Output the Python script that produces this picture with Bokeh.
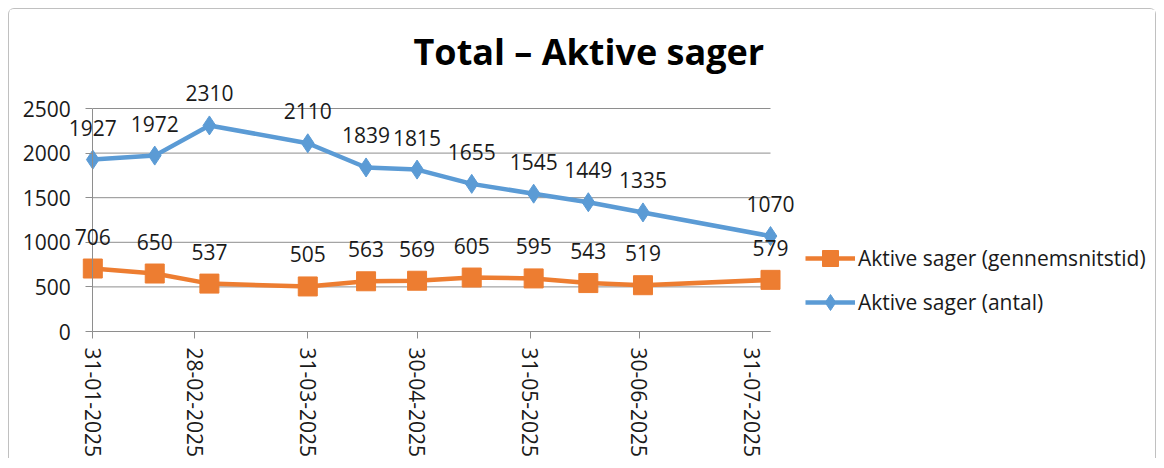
import datetime
from bokeh.plotting import figure
from bokeh.models import (Range1d, FixedTicker, DatetimeTickFormatter, LabelSet,
                          ColumnDataSource, Legend, LegendItem, LinearAxis, DatetimeAxis)
from bokeh.core.properties import value
from bokeh.embed import file_html
from bokeh.resources import INLINE

# ---- data ----
dates = ["31-01-2025", "17-02-2025", "04-03-2025", "31-03-2025", "16-04-2025",
         "30-04-2025", "15-05-2025", "01-06-2025", "16-06-2025", "01-07-2025",
         "05-08-2025"]
antal = [1927, 1972, 2310, 2110, 1839, 1815, 1655, 1545, 1449, 1335, 1070]
gennemsnitstid = [706, 650, 537, 505, 563, 569, 605, 595, 543, 519, 579]
tick_dates = ["31-01-2025", "28-02-2025", "31-03-2025", "30-04-2025",
              "31-05-2025", "30-06-2025", "31-07-2025"]
y_ticks = [0, 500, 1000, 1500, 2000, 2500]
title_text = "Total – Aktive sager"
label_gen = "Aktive sager (gennemsnitstid)"
label_antal = "Aktive sager (antal)"

BLUE = "#5B9BD5"
ORANGE = "#ED7D31"
GRID = "#8e8e8e"
TXT = "#1a1a1a"
FONT = "Open Sans"

# ---- layout (page pixels) ----
CANVAS_L, CANVAS_R = 9, 1157
CANVAS_T, CANVAS_B = 9, 459
FRAME_T = 83
PLOT_L, PLOT_R = 92.3, 770.0    # where first / last date sit
Y0_PX, YTOP_PX = 331.0, 108.0   # where 0 / 2500 sit


def to_dt(s):
    return datetime.datetime.strptime(s, "%d-%m-%Y")


def to_ms(d):
    return (d - datetime.datetime(1970, 1, 1)).total_seconds() * 1000.0


xs = [to_dt(d) for d in dates]
T0, T1 = to_ms(xs[0]), to_ms(xs[-1])
ppm = (PLOT_R - PLOT_L) / (T1 - T0)
x_start = T0 - (PLOT_L - CANVAS_L) / ppm
x_end = T1 + (CANVAS_R - PLOT_R) / ppm
ppu = (Y0_PX - YTOP_PX) / (y_ticks[-1] - y_ticks[0])
y_start = y_ticks[0] - (CANVAS_B - Y0_PX) / ppu
y_end = y_ticks[-1] + (YTOP_PX - FRAME_T) / ppu

src_a = ColumnDataSource(dict(x=xs, y=antal, t=[str(v) for v in antal]))
src_g = ColumnDataSource(dict(x=xs, y=gennemsnitstid, t=[str(v) for v in gennemsnitstid]))

p = figure(width=CANVAS_R - CANVAS_L, height=CANVAS_B - CANVAS_T,
           x_axis_type="datetime", x_axis_location=None, y_axis_location=None,
           x_range=Range1d(x_start, x_end), y_range=Range1d(y_start, y_end),
           output_backend="svg", toolbar_location=None,
           min_border_left=0, min_border_right=0,
           min_border_top=FRAME_T - CANVAS_T, min_border_bottom=0)
p.styles = {"margin-left": "8px", "margin-top": "8px",
            "border-left": "1px solid #c0c0c0", "border-top": "1px solid #c0c0c0",
            "border-right": "1px solid #c0c0c0", "border-top-left-radius": "6px",
            "border-top-right-radius": "6px"}

p.outline_line_color = None
p.background_fill_color = "white"
p.border_fill_color = "white"
for g in p.grid:
    g.visible = False

# title
p.title.text = title_text
p.title.text_font = FONT
p.title.text_font_style = "bold"
p.title.text_font_size = "36px"
p.title.text_color = "#000000"
p.title.align = "left"
p.title.offset = 413 - CANVAS_L
p.title.standoff = 16

# gridlines (drawn across the dated span)
p.segment(x0=[xs[0]] * len(y_ticks), x1=[xs[-1]] * len(y_ticks),
          y0=y_ticks, y1=y_ticks, line_color=GRID, line_width=1)

# axes
fmt = "%d-%m-%Y"
xaxis = DatetimeAxis(
    fixed_location=y_ticks[0],
    ticker=FixedTicker(ticks=[to_ms(to_dt(d)) for d in tick_dates]),
    formatter=DatetimeTickFormatter(milliseconds=fmt, seconds=fmt, minsec=fmt,
                                    minutes=fmt, hourmin=fmt, hours=fmt, days=fmt,
                                    months=fmt, years=fmt),
    bounds=(T0, T1), major_label_orientation="vertical")
yaxis = LinearAxis(fixed_location=T0, ticker=FixedTicker(ticks=y_ticks),
                   bounds=(y_ticks[0], y_ticks[-1]))
for ax in (xaxis, yaxis):
    ax.axis_line_color = GRID
    ax.axis_line_width = 1
    ax.major_tick_line_color = GRID
    ax.major_tick_out = 7
    ax.major_tick_in = 0
    ax.minor_tick_line_color = None
    ax.major_label_text_font = FONT
    ax.major_label_text_font_size = "21px"
    ax.major_label_text_color = TXT
yaxis.major_label_standoff = 15
xaxis.major_label_standoff = 9
p.add_layout(xaxis, "below")
p.add_layout(yaxis, "left")

# series
bl = p.line("x", "y", source=src_a, color=BLUE, line_width=4.5)
bs = p.scatter("x", "y", source=src_a, marker="diamond", size=19,
               fill_color=BLUE, line_color=BLUE)
ol = p.line("x", "y", source=src_g, color=ORANGE, line_width=4.5)
osq = p.scatter("x", "y", source=src_g, marker="square", size=19,
                fill_color=ORANGE, line_color=ORANGE)

for src in (src_a, src_g):
    p.add_layout(LabelSet(x="x", y="y", text="t", source=src, text_align="center",
                          text_baseline="middle", y_offset=32,
                          text_font=value(FONT), text_font_size="21px",
                          text_color=TXT))

legend = Legend(items=[LegendItem(label=label_gen, renderers=[ol, osq]),
                       LegendItem(label=label_antal, renderers=[bl, bs])],
                location=(805 - CANVAS_L, CANVAS_B - 321.7))
legend.border_line_color = None
legend.background_fill_alpha = 0
legend.padding = 0
legend.margin = 0
legend.spacing = 4
legend.glyph_width = 50
legend.glyph_height = 40
legend.label_height = 40
legend.label_standoff = 3
legend.label_text_font = FONT
legend.label_text_font_size = "21px"
legend.label_text_color = TXT
p.add_layout(legend)

open("out.html", "w").write(file_html(p, INLINE))
